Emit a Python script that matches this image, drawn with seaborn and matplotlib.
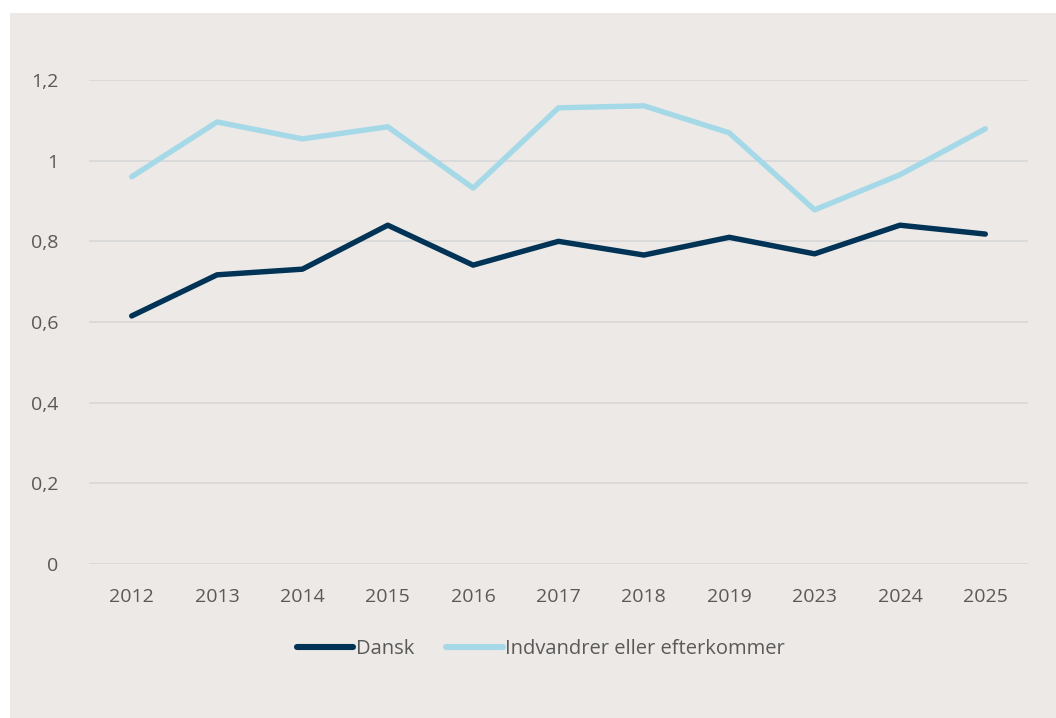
import pandas as pd
import seaborn as sb
import matplotlib.pyplot as plt
from matplotlib.patches import Rectangle
from matplotlib.ticker import FuncFormatter

years = ['2012', '2013', '2014', '2015', '2016', '2017', '2018', '2019', '2023', '2024', '2025']
dansk = [0.615, 0.717, 0.731, 0.840, 0.741, 0.800, 0.766, 0.810, 0.769, 0.840, 0.818]
indvandrer = [0.960, 1.096, 1.054, 1.084, 0.932, 1.131, 1.136, 1.069, 0.878, 0.965, 1.079]
series_names = ['Dansk', 'Indvandrer eller efterkommer']
y_ticks = [0, 0.2, 0.4, 0.6, 0.8, 1.0, 1.2]

bg = '#EDE9E6'
txt = '#595959'

df = pd.DataFrame({'year': years * 2,
                   'value': dansk + indvandrer,
                   'group': [series_names[0]] * len(years) + [series_names[1]] * len(years)})

sb.set_style('white')
plt.rcParams['font.family'] = ['Open Sans', 'DejaVu Sans']

fig = plt.figure(figsize=(10.56, 7.18), dpi=100, facecolor='white')
# grey panel behind everything
fig.patches.append(Rectangle((10 / 1056, 0), 1 - 10 / 1056, 1 - 13 / 718,
                             transform=fig.transFigure, facecolor=bg, edgecolor='none', zorder=0))

ax = fig.add_axes([89 / 1056, 1 - 564 / 718, (1028 - 89) / 1056, (564 - 80) / 718])
ax.set_zorder(2)
ax.patch.set_alpha(0)

sb.lineplot(data=df, x='year', y='value', hue='group', ax=ax,
            palette=['#003356', '#A5D9E8'], linewidth=3.9, sort=False,
            solid_capstyle='round', legend=True)

ax.set_xlim(-0.5, len(years) - 0.5)
ax.set_ylim(0, 1.2)
ax.set_yticks(y_ticks)
ax.yaxis.set_major_formatter(FuncFormatter(lambda v, p: f'{v:g}'.replace('.', ',')))
ax.grid(axis='y', color='#D9D9D9', linewidth=1.3)
ax.set_axisbelow(True)
for s in ax.spines.values():
    s.set_visible(False)
ax.tick_params(axis='both', length=0, labelsize=14, colors=txt)
ax.tick_params(axis='y', pad=22)
ax.tick_params(axis='x', pad=17)
ax.set(xlabel='', ylabel='')

handles, labels = ax.get_legend_handles_labels()
ax.get_legend().remove()
leg = fig.legend(handles, labels, loc='center', bbox_to_anchor=(541 / 1056, 1 - 649 / 718),
                 ncol=2, frameon=False, fontsize=14.5, handlelength=2.8, handletextpad=0.12,
                 columnspacing=1.6, labelcolor=txt)
leg.set_zorder(3)
for h in leg.legend_handles:
    h.set_linewidth(4.4)

fig.savefig('out.png', dpi=100, facecolor='white')
